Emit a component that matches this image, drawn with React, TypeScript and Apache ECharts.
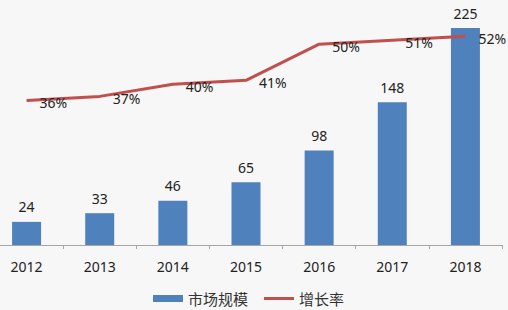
import React, { useEffect, useRef } from "react";
import * as echarts from "echarts";

const years = ["2012", "2013", "2014", "2015", "2016", "2017", "2018"];
const marketSize = [24, 33, 46, 65, 98, 148, 225];
const growthRate = [36, 37, 40, 41, 50, 51, 52];

const FONT = "'Noto Sans', 'Noto Sans CJK SC', sans-serif";

export default function App() {
  const ref = useRef<HTMLDivElement>(null);
  useEffect(() => {
    document.body.style.margin = "0";
    document.body.style.overflow = "hidden";
    if (!ref.current) return;
    const chart = echarts.init(ref.current, null, { renderer: "svg" });
    chart.setOption({
      animation: false,
      backgroundColor: "#F7F7F7",
      textStyle: { fontFamily: FONT },
      grid: { left: 0, right: 6, top: 4, bottom: 65, containLabel: false },
      legend: {
        left: 163,
        top: 290,
        padding: 0,
        itemWidth: 30,
        itemHeight: 7,
        itemGap: 16,
        textStyle: { fontSize: 15, lineHeight: 17, color: "#333", fontFamily: FONT },
        data: [
          { name: "市场规模", icon: "rect" },
          { name: "增长率", icon: "path://M0,0 L30,0 L30,3 L0,3 Z" },
        ],
      },
      xAxis: {
        type: "category",
        data: years,
        axisLine: { lineStyle: { color: "#A6A6A6", width: 1 } },
        axisTick: { show: true, length: 4, lineStyle: { color: "#A6A6A6" } },
        axisLabel: { fontSize: 14, color: "#222", margin: 14, fontFamily: FONT },
      },
      yAxis: [
        { type: "value", min: 0, max: 250, show: false },
        { type: "value", min: 0, max: 60, show: false },
      ],
      series: [
        {
          name: "市场规模",
          type: "bar",
          data: marketSize,
          barWidth: 29,
          itemStyle: { color: "#4F81BD" },
          label: {
            show: true,
            position: "top",
            distance: 8,
            fontSize: 14,
            color: "#222",
            fontFamily: FONT,
          },
        },
        {
          name: "增长率",
          type: "line",
          yAxisIndex: 1,
          data: growthRate,
          symbol: "circle",
          symbolSize: 0,
          showSymbol: true,
          lineStyle: { color: "#C0504D", width: 3 },
          itemStyle: { color: "#C0504D" },
          label: {
            show: true,
            position: "right",
            distance: 13,
            offset: [0, 2],
            formatter: "{c}%",
            fontSize: 14,
            color: "#222",
            fontFamily: FONT,
          },
        },
      ],
    });
    return () => chart.dispose();
  }, []);
  return (
    <div
      ref={ref}
      style={{ position: "fixed", left: -10, top: 0, width: 518, height: 310 }}
    />
  );
}
